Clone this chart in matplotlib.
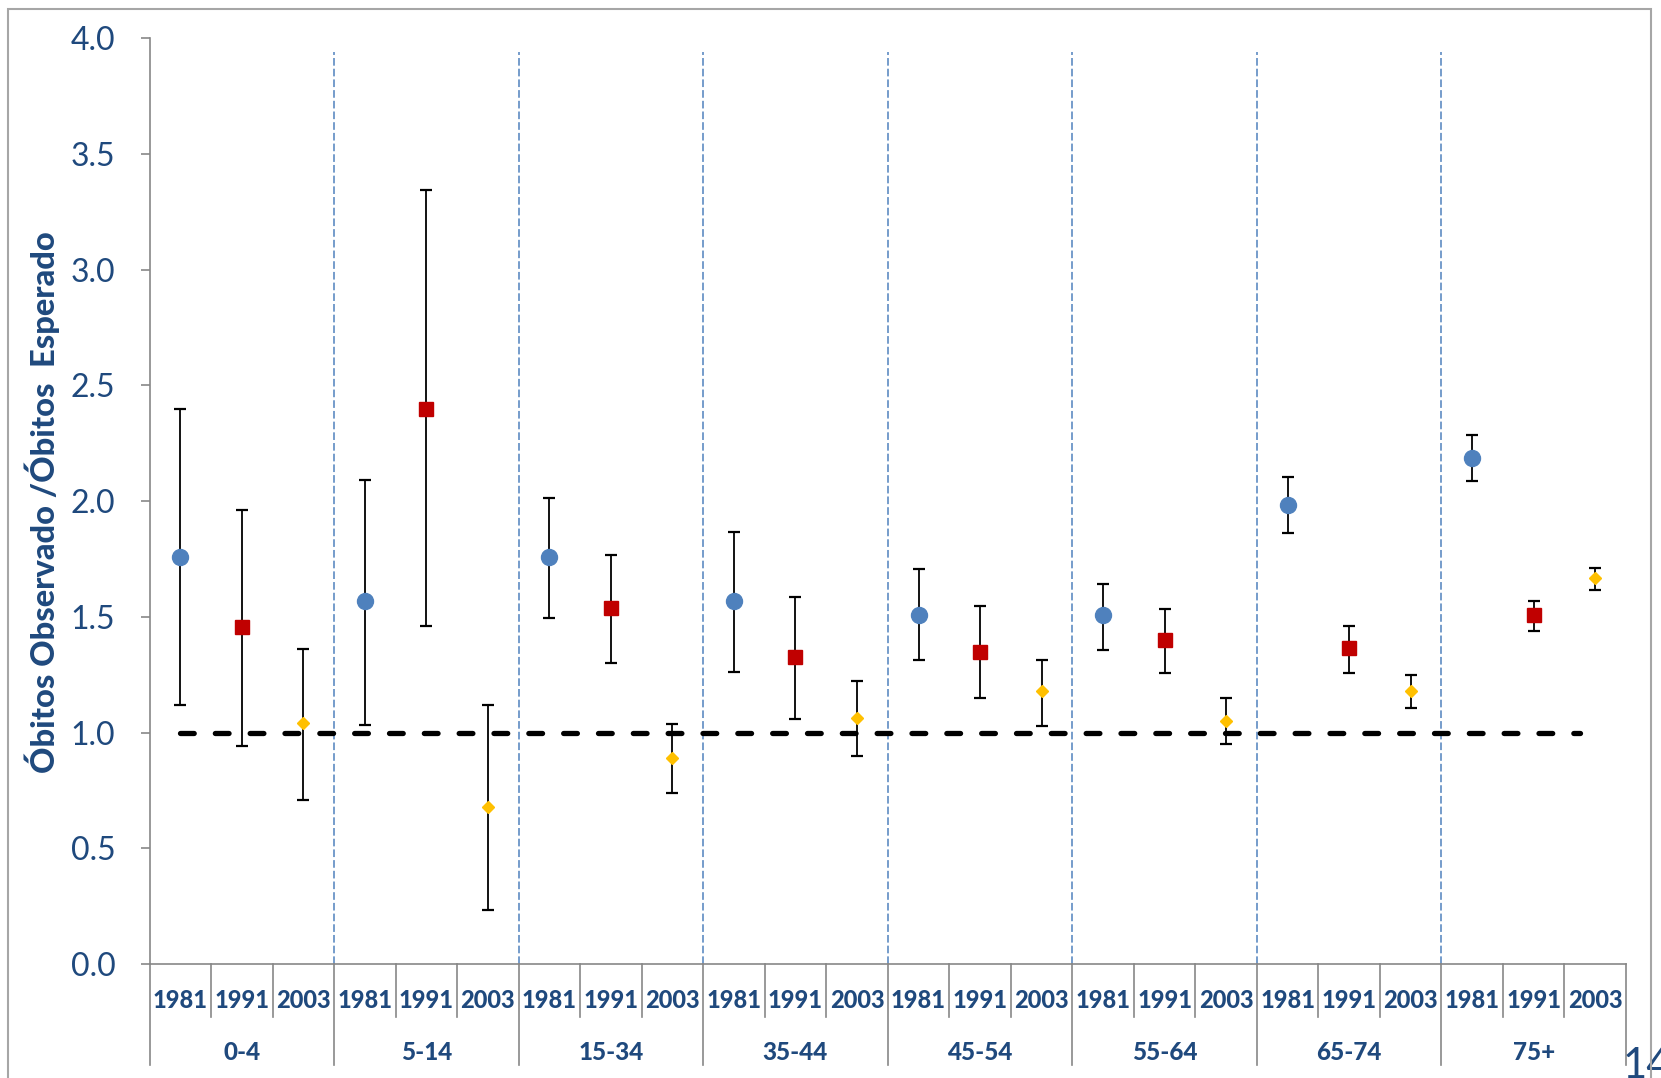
import matplotlib.pyplot as plt
import numpy as np
from matplotlib.patches import Rectangle

plt.rcParams['font.family'] = ['Lato', 'DejaVu Sans']

years = ['1981', '1991', '2003']
age_groups = ['0-4', '5-14', '15-34', '35-44', '45-54', '55-64', '65-74', '75+']

# observed/expected deaths ratio with 95% limits, one value per age group
ratio_1981 = [1.757, 1.570, 1.757, 1.570, 1.510, 1.506, 1.982, 2.188]
low_1981 = [1.120, 1.034, 1.497, 1.263, 1.313, 1.355, 1.863, 2.087]
high_1981 = [2.400, 2.090, 2.014, 1.867, 1.707, 1.643, 2.105, 2.284]

ratio_1991 = [1.455, 2.400, 1.538, 1.327, 1.350, 1.400, 1.364, 1.510]
low_1991 = [0.940, 1.460, 1.300, 1.057, 1.149, 1.259, 1.259, 1.437]
high_1991 = [1.960, 3.345, 1.767, 1.584, 1.547, 1.533, 1.460, 1.570]

ratio_2003 = [1.040, 0.677, 0.888, 1.062, 1.180, 1.048, 1.180, 1.666]
low_2003 = [0.710, 0.233, 0.741, 0.900, 1.030, 0.952, 1.108, 1.616]
high_2003 = [1.360, 1.120, 1.039, 1.222, 1.313, 1.149, 1.249, 1.712]

reference = 1.0

text_blue = '#1F497D'
axis_gray = '#878787'

series = [
    (ratio_1981, low_1981, high_1981, 'o', '#4F81BD', 11.5),
    (ratio_1991, low_1991, high_1991, 's', '#C00000', 10),
    (ratio_2003, low_2003, high_2003, 'D', '#FFC000', 6.5),
]

fig = plt.figure(figsize=(16.61, 10.78), dpi=100)
ax = fig.add_axes([149.5 / 1661, 114 / 1078, 1476.5 / 1661, 925.7 / 1078])

n_groups = len(age_groups)
n_years = len(years)
group_pos = np.arange(n_groups) * n_years

for k, (r, lo, hi, marker, color, ms) in enumerate(series):
    r = np.array(r)
    yerr = [r - np.array(lo), np.array(hi) - r]
    ax.errorbar(group_pos + k, r, yerr=yerr, fmt=marker, color=color,
                mec=color, ms=ms, ecolor='black', elinewidth=1.3,
                capsize=4, capthick=1.6, zorder=3)

# reference line at ratio 1
ax.plot([0, n_groups * n_years - 1.25], [reference, reference], color='black',
        lw=3.8, dashes=(2.6, 4.0), dash_capstyle='round', zorder=2)

# dashed separators between age groups
for b in group_pos[1:] - 0.5:
    ax.plot([b, b], [0, 3.94], color='#4F81BD', lw=1.1, dashes=(5, 2),
            zorder=1)

ax.set_xlim(-0.5, n_groups * n_years - 0.5)
ax.set_ylim(0, 4)

for side in ['top', 'right']:
    ax.spines[side].set_visible(False)
for side in ['left', 'bottom']:
    ax.spines[side].set_color(axis_gray)
    ax.spines[side].set_linewidth(1.2)

yt = np.arange(0, 4.01, 0.5)
ax.set_yticks(yt)
ax.set_yticklabels([f'{v:.1f}' for v in yt])
ax.tick_params(axis='y', colors=axis_gray, labelcolor=text_blue,
               labelsize=23, length=6.5, width=1.2, pad=18)

# two-level category axis: years under each point, age groups below
ax.set_xticks([])
xt = ax.get_xaxis_transform()
for i in range(n_groups * n_years + 1):
    b = i - 0.5
    bottom = -0.109 if i % n_years == 0 else -0.057
    ax.plot([b, b], [0, bottom], color=axis_gray, lw=1.2, transform=xt,
            clip_on=False)
for g, name in enumerate(age_groups):
    for k, yr in enumerate(years):
        ax.text(group_pos[g] + k, -0.039, yr, transform=xt, ha='center',
                va='center', fontsize=17, fontweight='black', color=text_blue)
    ax.text(group_pos[g] + 1, -0.096, name, transform=xt, ha='center',
            va='center', fontsize=17.5, fontweight='black', color=text_blue)

fig.text(42.5 / 1661, (1078 - 502) / 1078, 'Óbitos Observado /Óbitos  Esperado',
         rotation=90, ha='center', va='center', fontsize=23.5,
         fontweight='black', color=text_blue)

fig.text(1623 / 1661, 0.0, '14', ha='left', va='baseline', fontsize=30,
         color=text_blue)

fig.patches.append(Rectangle((8 / 1661, -0.05), 1642.5 / 1661,
                             0.05 + (1078 - 9.3) / 1078,
                             transform=fig.transFigure, fill=False,
                             ec='#A6A6A6', lw=1.5, zorder=5))

fig.savefig('out.png', dpi=100)
